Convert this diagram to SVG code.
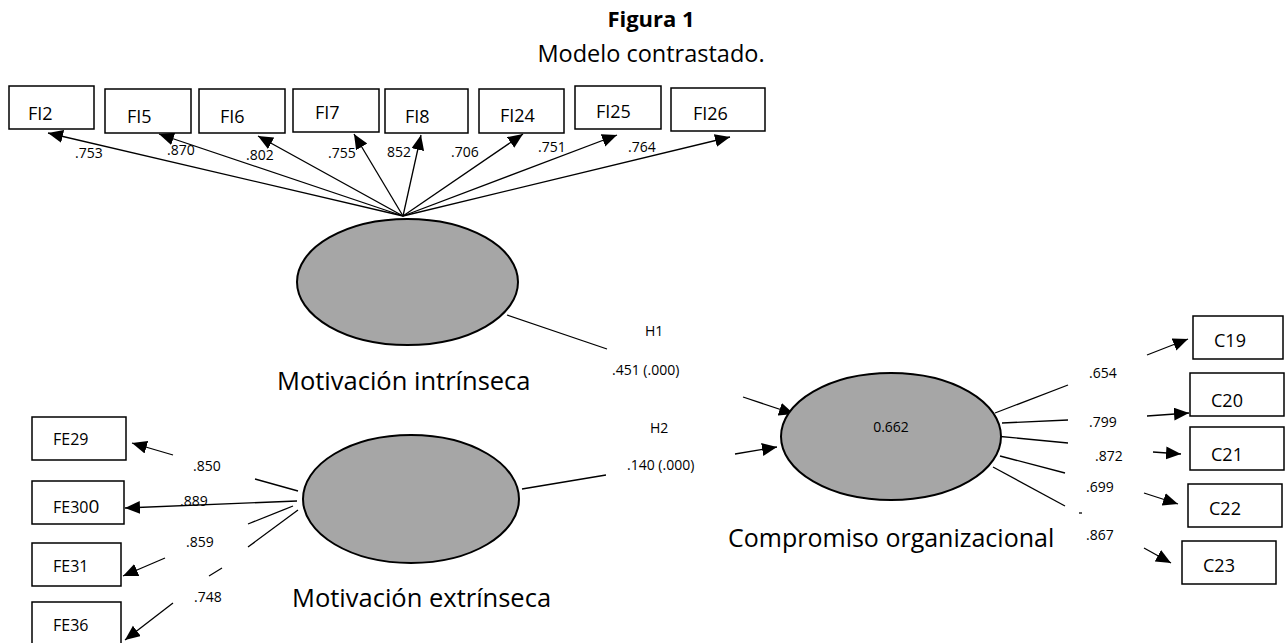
<svg xmlns="http://www.w3.org/2000/svg" width="1286" height="643" viewBox="0 0 1286 643">
<style>
text{font-family:"Open Sans","Noto Sans","Liberation Sans",sans-serif;fill:#000}
.box{fill:#fff;stroke:#000;stroke-width:1.5}
.lat{fill:#a6a6a6;stroke:#000;stroke-width:2}
.ln{stroke:#000;stroke-width:1.3;fill:none}
.arr{stroke:#000;stroke-width:1.3;fill:none;marker-end:url(#ah)}
.ind{font-size:18px}
.ind2{font-size:16px}
.val{font-size:14px}
.lbl{font-size:25.5px}
</style>
<defs>
<marker id="ah" markerUnits="userSpaceOnUse" markerWidth="16" markerHeight="14" refX="15" refY="6.5" orient="auto">
<path d="M0,0 L15,6.5 L0,13 z" fill="#000"/>
</marker>
</defs>
<rect width="1286" height="643" fill="#fff"/>
<g id="title">
<text x="651" y="27" text-anchor="middle" font-size="22" font-weight="bold">Figura 1</text>
<text x="651" y="62" text-anchor="middle" font-size="23.5">Modelo contrastado.</text>
</g>
<g id="connectors">
<line class="arr" x1="403" y1="216" x2="48" y2="133"/>
<line class="arr" x1="403" y1="216" x2="159" y2="134"/>
<line class="arr" x1="403" y1="216" x2="258" y2="136"/>
<line class="arr" x1="403" y1="216" x2="354" y2="134"/>
<line class="arr" x1="403" y1="216" x2="421" y2="135"/>
<line class="arr" x1="403" y1="216" x2="523" y2="134"/>
<line class="arr" x1="403" y1="216" x2="617" y2="135"/>
<line class="arr" x1="403" y1="216" x2="730" y2="137"/>
<line class="ln" x1="507" y1="315" x2="607" y2="349"/>
<line class="arr" x1="743" y1="397" x2="794" y2="414"/>
<line class="ln" x1="522" y1="489" x2="606" y2="475"/>
<line class="arr" x1="735" y1="454" x2="777" y2="447"/>
<line class="ln" x1="995" y1="413" x2="1068" y2="385"/>
<line class="ln" x1="1002" y1="423" x2="1068" y2="420"/>
<line class="ln" x1="995" y1="436" x2="1068" y2="443"/>
<line class="ln" x1="1000" y1="456" x2="1065" y2="473"/>
<line class="ln" x1="993" y1="467" x2="1065" y2="506"/>
<line class="ln" x1="1079" y1="513" x2="1082" y2="513"/>
<line class="arr" x1="1147" y1="355" x2="1188" y2="339"/>
<line class="arr" x1="1147" y1="416" x2="1189" y2="413"/>
<line class="arr" x1="1153" y1="452" x2="1181" y2="454"/>
<line class="arr" x1="1144" y1="493" x2="1178" y2="504"/>
<line class="arr" x1="1144" y1="548" x2="1171" y2="563"/>
<line class="ln" x1="298" y1="491" x2="255" y2="479"/>
<line class="arr" x1="173" y1="455" x2="132" y2="443"/>
<line class="arr" x1="297" y1="501" x2="125" y2="508"/>
<line class="ln" x1="293" y1="506" x2="248" y2="524"/>
<line class="arr" x1="165" y1="558" x2="123" y2="576"/>
<line class="ln" x1="298" y1="510" x2="248" y2="547"/>
<line class="ln" x1="222" y1="568" x2="209" y2="576"/>
<line class="arr" x1="173" y1="603" x2="125" y2="640"/>
</g>
<g id="loadings">
<text class="val" x="75" y="158">.753</text>
<text class="val" x="167" y="155">.870</text>
<text class="val" x="246" y="160">.802</text>
<text class="val" x="328" y="158">.755</text>
<text class="val" x="387" y="157">852</text>
<text class="val" x="451" y="157">.706</text>
<text class="val" x="538" y="152">.751</text>
<text class="val" x="628" y="152">.764</text>
<text class="val" x="645" y="336">H1</text>
<text class="val" x="612" y="375">.451 (.000)</text>
<text class="val" x="650" y="433">H2</text>
<text class="val" x="627" y="470">.140 (.000)</text>
<text class="val" x="1089" y="378">.654</text>
<text class="val" x="1089" y="427">.799</text>
<text class="val" x="1095" y="461">.872</text>
<text class="val" x="1086" y="492">.699</text>
<text class="val" x="1086" y="540">.867</text>
<text class="val" x="193" y="471">.850</text>
<text class="val" x="180" y="506">.889</text>
<text class="val" x="186" y="547">.859</text>
<text class="val" x="194" y="602">.748</text>
</g>
<g id="FI2"><rect class="box" x="9" y="86" width="85" height="43"/><text class="ind" x="28" y="120">FI2</text></g>
<g id="FI5"><rect class="box" x="105" y="89" width="86" height="44"/><text class="ind" x="127" y="123">FI5</text></g>
<g id="FI6"><rect class="box" x="199" y="89" width="86" height="44"/><text class="ind" x="220" y="123">FI6</text></g>
<g id="FI7"><rect class="box" x="293" y="89" width="86" height="43"/><text class="ind" x="315" y="119">FI7</text></g>
<g id="FI8"><rect class="box" x="385" y="89" width="83" height="44"/><text class="ind" x="405" y="123">FI8</text></g>
<g id="FI24"><rect class="box" x="479" y="89" width="85" height="44"/><text class="ind" x="500" y="122">FI24</text></g>
<g id="FI25"><rect class="box" x="575" y="86" width="86" height="43"/><text class="ind" x="596" y="118">FI25</text></g>
<g id="FI26"><rect class="box" x="671" y="88" width="94" height="43"/><text class="ind" x="693" y="120">FI26</text></g>
<g id="MI"><ellipse class="lat" cx="407.5" cy="282" rx="110.5" ry="63"/><text class="lbl" x="277" y="390">Motivación intrínseca</text></g>
<g id="ME"><ellipse class="lat" cx="411" cy="499" rx="108" ry="64"/><text class="lbl" x="292" y="607">Motivación extrínseca</text></g>
<g id="CO"><ellipse class="lat" cx="891" cy="436.5" rx="110" ry="63.5"/><text class="val" x="891" y="432" text-anchor="middle">0.662</text><text x="728" y="547" font-size="25">Compromiso organizacional</text></g>
<g id="C19"><rect class="box" x="1193" y="316" width="90" height="43"/><text class="ind" x="1214" y="347">C19</text></g>
<g id="C20"><rect class="box" x="1190" y="373" width="94" height="43"/><text class="ind" x="1211" y="407">C20</text></g>
<g id="C21"><rect class="box" x="1190" y="427" width="94" height="43"/><text class="ind" x="1211" y="461">C21</text></g>
<g id="C22"><rect class="box" x="1188" y="484" width="94" height="43"/><text class="ind" x="1209" y="515">C22</text></g>
<g id="C23"><rect class="box" x="1182" y="541" width="94" height="43"/><text class="ind" x="1203" y="572">C23</text></g>
<g id="FE29"><rect class="box" x="32" y="417" width="94" height="43"/><text class="ind2" x="53" y="445">FE29</text></g>
<g id="FE300"><rect class="box" x="32" y="481" width="92" height="43"/><text class="ind2" x="53" y="513">FE30<tspan font-size="19">0</tspan></text></g>
<g id="FE31"><rect class="box" x="32" y="543" width="89" height="43"/><text class="ind2" x="53" y="572">FE31</text></g>
<g id="FE36"><rect class="box" x="32" y="602" width="89" height="50"/><text class="ind2" x="53" y="631">FE36</text></g>
</svg>
